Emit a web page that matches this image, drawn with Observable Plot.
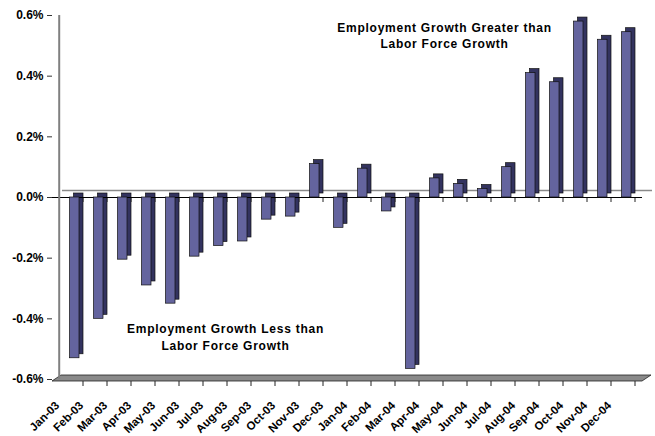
<!DOCTYPE html>
<html>
<head>
<meta charset="utf-8">
<script src="https://cdn.jsdelivr.net/npm/d3@7"></script>
<script src="https://cdn.jsdelivr.net/npm/@observablehq/plot@0.6"></script>
<style>
  html, body { margin: 0; padding: 0; background: #fff; }
  #chart svg { display: block; }
</style>
</head>
<body>
<div id="chart"></div>
<script>
const months = ["Jan-03","Feb-03","Mar-03","Apr-03","May-03","Jun-03","Jul-03","Aug-03","Sep-03","Oct-03","Nov-03","Dec-03",
                "Jan-04","Feb-04","Mar-04","Apr-04","May-04","Jun-04","Jul-04","Aug-04","Sep-04","Oct-04","Nov-04","Dec-04"];
const growth = [-0.53,-0.40,-0.205,-0.29,-0.35,-0.195,-0.16,-0.145,-0.073,-0.063,0.11,-0.10,
                0.095,-0.046,-0.565,0.063,0.045,0.028,0.10,0.41,0.38,0.58,0.52,0.545];
const yTicks = [-0.6,-0.4,-0.2,0,0.2,0.4,0.6];
const noteAbove = "Employment Growth Greater than\nLabor Force Growth";
const noteBelow = "Employment Growth Less than\nLabor Force Growth";

const data = months.map((m, i) => ({month: m, value: growth[i]}));

const W = 655, H = 436;
const font = "'Liberation Sans', Arial, sans-serif";

// custom decoration: floor slab at -0.6% and the small boundary ticks
function floorMark(index, scales, values, dims) {
  const g = d3.create("svg:g");
  const x0 = dims.marginLeft, x1 = dims.width - dims.marginRight;
  const yF = scales.y(-0.6), y0 = scales.y(0);
  const bw = scales.x.bandwidth();
  g.append("polygon")
    .attr("points", [[x0, yF + 2], [x1, yF + 2], [x1 + 9, yF - 4], [x0 + 9, yF - 4]].map(p => p.join(",")).join(" "))
    .attr("fill", "#8a8a8a").attr("stroke", "#222").attr("stroke-width", 0.8);
  months.forEach(m => {
    const bx = scales.x(m) + bw;
    g.append("line").attr("x1", bx).attr("x2", bx).attr("y1", yF + 2).attr("y2", yF + 7)
      .attr("stroke", "#222").attr("stroke-width", 1);
    g.append("line").attr("x1", bx).attr("x2", bx).attr("y1", y0).attr("y2", y0 + 5)
      .attr("stroke", "#222").attr("stroke-width", 1);
  });
  return g.node();
}

const chart = Plot.plot({
  width: W,
  height: H,
  marginLeft: 52,
  marginRight: 13,
  marginTop: 15,
  marginBottom: 57,
  style: {fontFamily: font, background: "#fff", color: "#000", overflow: "visible"},
  x: {type: "band", domain: months, padding: 0},
  y: {domain: [-0.6, 0.6], ticks: yTicks, tickFormat: d => d.toFixed(1) + "%"},
  marks: [
    // back-wall zero gridline
    Plot.ruleY([0], {dx: 10, dy: -7, stroke: "#8a8a8a", strokeWidth: 1.5}),
    floorMark,
    // dark extrusion (side + top) of each bar
    Plot.barY(data, {x: "month", y: "value", insetLeft: 10.5, insetRight: 4, dx: 4, dy: -4,
      fill: "#33335f", stroke: "#111", strokeWidth: 0.7}),
    // front zero axis line
    Plot.ruleY([0], {stroke: "#000", strokeWidth: 1.2}),
    // front faces
    Plot.barY(data, {x: "month", y: "value", insetLeft: 10.5, insetRight: 4,
      fill: "#64649e", stroke: "#111", strokeWidth: 0.7}),
    // y axis line
    Plot.ruleX([months[0]], {x: d => d, dx: -12.29, stroke: "#808080", strokeWidth: 2, y1: -0.6, y2: 0.6}),
    Plot.axisY({ticks: yTicks, tickFormat: d => d.toFixed(1) + "%", tickSize: 5, tickPadding: 4,
      fontWeight: "bold", fontSize: 12, label: null, stroke: "#333"}),
    Plot.axisX({tickSize: 0, tickRotate: -45, tickPadding: 24, dx: -14, fontWeight: "bold", fontSize: 11.5, label: null}),
    Plot.text([noteAbove], {x: () => "May-04", y: () => 0.537, dx: -11, text: d => d,
      fontWeight: "bold", fontSize: 12, lineHeight: 1.35, fill: "#000"}),
    Plot.text([noteBelow], {x: () => "Jul-03", y: () => -0.457, dx: 10, text: d => d,
      fontWeight: "bold", fontSize: 12, lineHeight: 1.4, fill: "#000"})
  ]
});

d3.select(chart).selectAll('g[aria-label="text"] text').style("letter-spacing", "0.75px");
document.getElementById("chart").appendChild(chart);
</script>
</body>
</html>
